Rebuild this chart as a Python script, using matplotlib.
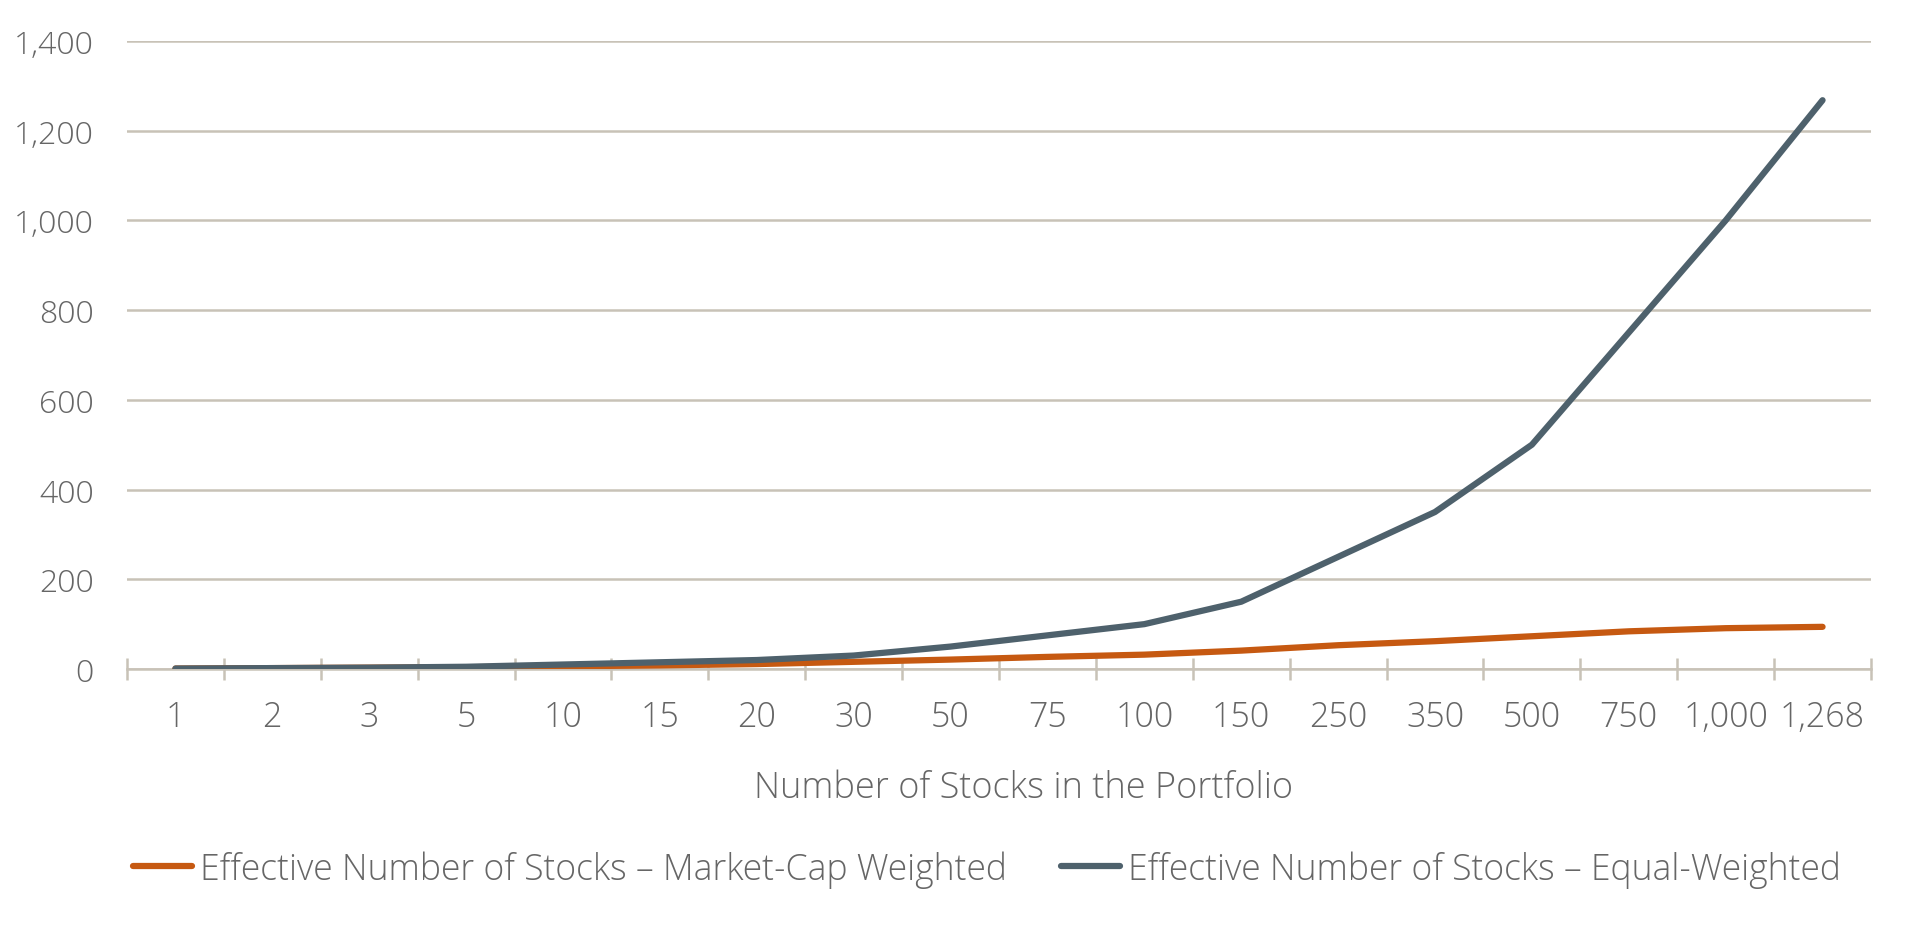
import matplotlib
matplotlib.use("Agg")
import matplotlib.pyplot as plt
from matplotlib.lines import Line2D
from matplotlib.ticker import FixedLocator, FuncFormatter

categories = ["1", "2", "3", "5", "10", "15", "20", "30", "50", "75", "100",
              "150", "250", "350", "500", "750", "1,000", "1,268"]
market_cap = [1, 2, 3, 4, 6, 8, 11, 16, 21, 27, 32, 41, 53, 62, 73, 84, 91, 94]
equal_weighted = [1, 2, 3, 5, 10, 15, 20, 30, 50, 75, 100, 150, 250, 350, 500, 750, 1000, 1268]
yticks = [0, 200, 400, 600, 800, 1000, 1200, 1400]
series_names = ["Effective Number of Stocks \u2013 Market-Cap Weighted",
                "Effective Number of Stocks \u2013 Equal-Weighted"]

ORANGE = "#C65911"
SLATE = "#4E616C"
GRID = "#C8C2B7"
TEXT = "#666666"
FONT = ["Open Sans", "DejaVu Sans"]
FS_BIG = 26
FS_LEG = 25.6
FS_X = 24.5
FS_Y = 23
W = "light"
LW = 4.5

plt.rcParams["font.family"] = FONT
plt.rcParams["font.weight"] = W

fig = plt.figure(figsize=(19.2, 9.28), dpi=100)
ax = fig.add_axes([127 / 1920, 1 - 670 / 928, (1871 - 127) / 1920, (670 - 42) / 928])

x = list(range(len(categories)))
ax.plot(x, market_cap, color=ORANGE, lw=LW, solid_capstyle="round", zorder=3)
ax.plot(x, equal_weighted, color=SLATE, lw=LW, solid_capstyle="round", zorder=4)

ax.set_xlim(-0.5, len(categories) - 0.5)
ax.set_ylim(0, 1400)

ax.set_yticks(yticks)
ax.yaxis.set_major_formatter(FuncFormatter(lambda v, p: f"{int(v):,}"))
ax.tick_params(axis="y", length=0, pad=24, labelsize=FS_Y, labelcolor=TEXT)
ax.grid(axis="y", color=GRID, lw=1.8, zorder=0)
ax.set_axisbelow(True)

ax.xaxis.set_major_locator(FixedLocator([i - 0.5 for i in range(len(categories) + 1)]))
ax.xaxis.set_major_formatter(FuncFormatter(lambda v, p: ""))
ax.xaxis.set_minor_locator(FixedLocator(x))
ax.set_xticklabels(categories, minor=True)
ax.tick_params(axis="x", which="major", direction="inout", length=16, width=1.8, color=GRID)
ax.tick_params(axis="x", which="minor", length=0, pad=22, labelsize=FS_X, labelcolor=TEXT)

for s in ["top", "right", "left"]:
    ax.spines[s].set_visible(False)
ax.spines["bottom"].set_color(GRID)
ax.spines["bottom"].set_linewidth(1.8)
ax.spines["bottom"].set_zorder(1)

for lab in ax.get_xticklabels(minor=True) + ax.get_yticklabels():
    lab.set_fontweight(W)

fig.text(1024 / 1920, 1 - 789 / 928, "Number of Stocks in the Portfolio",
         ha="center", va="center", fontsize=FS_BIG, color=TEXT, fontweight=W)

h1 = Line2D([], [], color=ORANGE, lw=LW, solid_capstyle="round")
h2 = Line2D([], [], color=SLATE, lw=LW, solid_capstyle="round")
common = dict(frameon=False, fontsize=FS_LEG, loc="center left", borderpad=0, borderaxespad=0,
              handlelength=1.67, handletextpad=0.22, labelcolor=TEXT)
leg1 = fig.legend([h1], [series_names[0]], bbox_to_anchor=(133 / 1920, 1 - 870 / 928), **common)
leg2 = fig.legend([h2], [series_names[1]], bbox_to_anchor=(1061 / 1920, 1 - 870 / 928), **common)
for lg in (leg1, leg2):
    for t in lg.get_texts():
        t.set_fontweight(W)

fig.savefig("out.png", dpi=100, facecolor="white")
